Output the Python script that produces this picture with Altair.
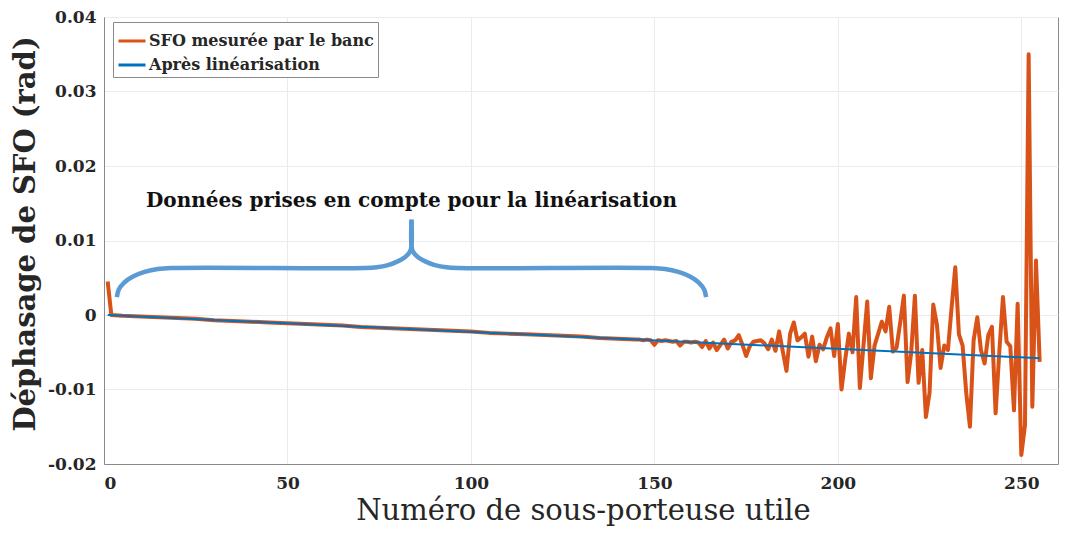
import altair as alt
import pandas as pd

# ---- data ----
label_sfo = "SFO mesurée par le banc"
label_lin = "Après linéarisation"

sfo_x = [1, 2, 5, 10, 15, 20, 25, 30, 35, 40, 45, 50, 55, 60, 65, 70, 75, 80,
         85, 90, 95, 100, 105, 110, 115, 120, 125, 130, 135, 140, 145] + list(range(146, 256))
sfo_y = [
    0.0045, 0.0000, -0.0001, -0.0002, -0.0003, -0.0004, -0.0005, -0.0007, -0.0008, -0.0009,
    -0.0010, -0.0011, -0.0012, -0.0013, -0.0014, -0.0016, -0.0017, -0.0018, -0.0019, -0.0020,
    -0.0021, -0.0022, -0.0024, -0.0025, -0.0026, -0.0027, -0.0028, -0.0029, -0.0031, -0.0032,
    -0.0033,
    # 146 - 162
    -0.0033, -0.0034, -0.0033, -0.0034, -0.0040, -0.0034, -0.0035, -0.0034, -0.0035, -0.0036,
    -0.0035, -0.0041, -0.0036, -0.0036, -0.0037, -0.0036, -0.0037,
    # 163 - 180
    -0.0043, -0.0035, -0.0045, -0.0037, -0.0047, -0.0040, -0.0033, -0.0045, -0.0036, -0.0034,
    -0.0027, -0.0040, -0.0055, -0.0042, -0.0036, -0.0035, -0.0034, -0.0038,
    # 181 - 200
    -0.0046, -0.0033, -0.0048, -0.0022, -0.0049, -0.0075, -0.0025, -0.0010, -0.0034, -0.0030,
    -0.0025, -0.0056, -0.0029, -0.0062, -0.0040, -0.0046, -0.0030, -0.0018, -0.0055, -0.0012,
    # 201 - 220
    -0.0100, -0.0060, -0.0025, -0.0050, 0.0024, -0.0098, -0.0040, 0.0018, -0.0085, -0.0041,
    -0.0025, -0.0009, -0.0022, 0.0011, -0.0049, -0.0044, -0.0010, 0.0026, -0.0090, -0.0050,
    # 221 - 240
    0.0026, -0.0091, -0.0047, -0.0137, -0.0104, 0.0014, -0.0013, -0.0071, -0.0041, -0.0047,
    0.0010, 0.0064, -0.0026, -0.0041, -0.0105, -0.0150, -0.0034, -0.0003, -0.0047, -0.0065,
    # 241 - 255
    -0.0027, -0.0016, -0.0132, -0.0050, 0.0024, -0.0036, -0.0042, -0.0128, 0.0015, -0.0188,
    -0.0148, 0.0350, -0.0123, 0.0073, -0.0063,
]

lin_x = [1, 255]
lin_y = [0.0, -0.0058]

# curly brace annotation (data units), left half then right half
brace_left_x = [3.5, 4.0, 5.5, 7.9, 11.05, 14.7, 18.6, 71.0, 74.3, 77.4, 80.05, 82.1, 83.4, 83.8, 83.8]
brace_left_y = [0.0024, 0.0034, 0.00435, 0.00516, 0.00578, 0.00617, 0.0063, 0.0063, 0.0064,
                0.0067, 0.0072, 0.0078, 0.0085, 0.0093, 0.0128]
brace_right_x = [164.1, 163.6, 162.1, 159.7, 156.55, 152.9, 149.0, 96.6, 93.3, 90.2, 87.55, 85.5, 84.2, 83.8, 83.8]
brace_right_y = brace_left_y

note_text = "Données prises en compte pour la linéarisation"
note_x = [83.8]
note_y = [0.0153]

x_ticks = [0, 50, 100, 150, 200, 250]
y_ticks = [-0.02, -0.01, 0, 0.01, 0.02, 0.03, 0.04]

# ---- tables ----
df_sfo = pd.DataFrame({"x": sfo_x, "y": sfo_y, "series": label_sfo})
df_lin = pd.DataFrame({"x": lin_x, "y": lin_y, "series": label_lin})
df_brace = pd.DataFrame({
    "x": brace_left_x + brace_right_x,
    "y": brace_left_y + brace_right_y,
    "part": ["L"] * len(brace_left_x) + ["R"] * len(brace_right_x),
    "i": list(range(len(brace_left_x))) + list(range(len(brace_right_x))),
})
df_note = pd.DataFrame({"x": note_x, "y": note_y, "t": [note_text]})

FONT = "DejaVu Serif"
W, H = 954, 447

xscale = alt.Scale(domain=[0, 260], nice=False, zero=False)
yscale = alt.Scale(domain=[-0.02, 0.04], nice=False, zero=False)
cscale = alt.Scale(domain=[label_sfo, label_lin], range=["#D95319", "#0072BD"])

x_axis = alt.Axis(
    title="Numéro de sous-porteuse utile", values=x_ticks, format="d",
    labelFont=FONT, labelFontSize=17, labelFontWeight="bold", labelColor="#262626",
    labelPadding=11, ticks=False,
    titleFont=FONT, titleFontSize=29, titleFontWeight="normal", titleColor="#262626",
    titleBaseline="alphabetic", titleY=55, titleX=W / 2 + 2, titleAlign="center",
    grid=True, gridColor="#ebebeb", domainColor="#8a8a8a",
)
y_axis = alt.Axis(
    title="Déphasage de SFO (rad)", values=y_ticks,
    labelExpr="datum.value == 0 ? '0' : replace(format(datum.value, '.2f'), '\u2212', '-')",
    labelFont=FONT, labelFontSize=17, labelFontWeight="bold", labelColor="#262626",
    labelPadding=8, ticks=False,
    titleFont=FONT, titleFontSize=29, titleFontWeight="bold", titleColor="#262626",
    titleAngle=270, titleBaseline="alphabetic", titleAlign="center",
    titleX=-70, titleY=H / 2 - 7,
    grid=True, gridColor="#ebebeb", domainColor="#8a8a8a",
)

legend = alt.Legend(
    title=None, orient="none", legendX=9, legendY=5,
    fillColor="white", strokeColor="#8a8a8a", padding=4,
    labelFont=FONT, labelFontSize=16, labelFontWeight="bold", labelColor="#262626",
    labelLimit=400, symbolType="stroke", symbolSize=729, symbolStrokeWidth=3,
    rowPadding=1, labelOffset=2,
)

base_x = alt.X("x:Q", scale=xscale, axis=x_axis)
base_y = alt.Y("y:Q", scale=yscale, axis=y_axis)

sfo_line = alt.Chart(df_sfo).mark_line(strokeWidth=4, strokeJoin="round").encode(
    x=base_x, y=base_y,
    color=alt.Color("series:N", scale=cscale, legend=legend),
)
lin_line = alt.Chart(df_lin).mark_line(strokeWidth=2).encode(
    x=alt.X("x:Q", scale=xscale), y=alt.Y("y:Q", scale=yscale),
    color=alt.Color("series:N", scale=cscale, legend=legend),
)
brace = alt.Chart(df_brace).mark_line(
    color="#5B9BD5", strokeWidth=4.5, interpolate="catmull-rom", strokeCap="butt"
).encode(
    x=alt.X("x:Q", scale=xscale), y=alt.Y("y:Q", scale=yscale),
    detail="part:N", order="i:Q",
)
note = alt.Chart(df_note).mark_text(
    font=FONT, fontSize=20, fontWeight="bold", color="#111111", align="center", baseline="middle"
).encode(
    x=alt.X("x:Q", scale=xscale), y=alt.Y("y:Q", scale=yscale), text="t:N",
)

chart = alt.layer(sfo_line, lin_line, brace, note).properties(
    width=W, height=H,
    autosize=alt.AutoSizeParams(type="none"),
    padding={"left": 96, "top": 9, "right": 2, "bottom": 62},
    background="white",
).configure_view(stroke="#8a8a8a", strokeWidth=1)

chart.save("out.html", embed_options={"renderer": "svg", "actions": False})
